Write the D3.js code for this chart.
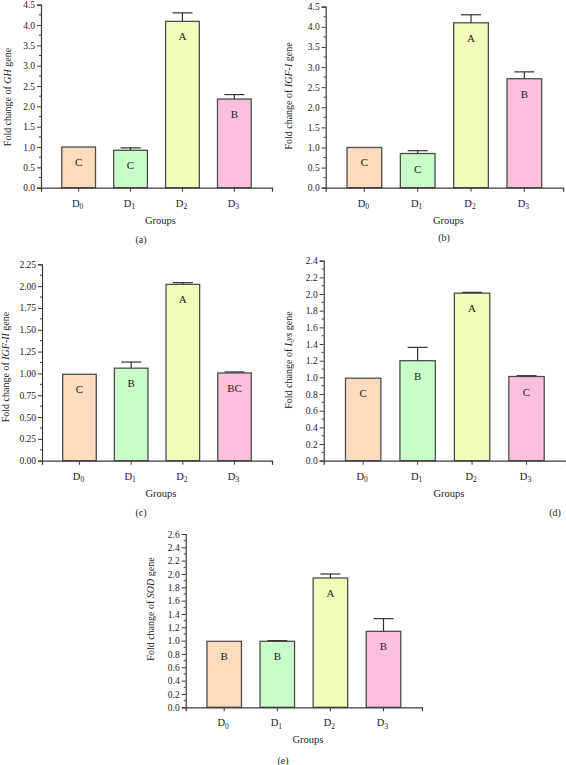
<!DOCTYPE html>
<html>
<head>
<meta charset="utf-8">
<script src="https://cdn.jsdelivr.net/npm/d3@7"></script>
<style>
  body { margin: 0; background: #fff; }
  svg { display: block; font-family: "Liberation Serif", "DejaVu Serif", serif; }
</style>
</head>
<body>
<div id="chart"></div>
<script>
// groups on the x axis
const groups = ["D0", "D1", "D2", "D3"];
const barColors = ["#fddcbd", "#c8fcc8", "#f3fdbb", "#fcbfde"];

// (a) GH
const ghMean = [1.0, 0.92, 4.09, 2.18];
const ghErr = [0, 0.06, 0.21, 0.11];
const ghLetters = ["C", "C", "A", "B"];
// (b) IGF-I
const igf1Mean = [1.0, 0.85, 4.1, 2.71];
const igf1Err = [0, 0.07, 0.2, 0.17];
const igf1Letters = ["C", "C", "A", "B"];
// (c) IGF-II
const igf2Mean = [0.99, 1.06, 2.02, 1.005];
const igf2Err = [0, 0.07, 0.02, 0.012];
const igf2Letters = ["C", "B", "A", "BC"];
// (d) Lys
const lysMean = [0.99, 1.2, 2.01, 1.01];
const lysErr = [0, 0.16, 0.01, 0.01];
const lysLetters = ["C", "B", "A", "C"];
// (e) SOD
const sodMean = [0.99, 0.99, 1.94, 1.14];
const sodErr = [0, 0.01, 0.06, 0.19];
const sodLetters = ["B", "B", "A", "B"];

const svg = d3.select("#chart").append("svg")
    .attr("width", 566)
    .attr("height", 765);

const axisColor = "#3a3a3a";

function drawPanel(p) {
  const g = svg.append("g");

  const x = d3.scaleBand()
    .domain(groups)
    .range([p.left, p.right])
    .paddingInner(0.35)
    .paddingOuter(0.4);

  const y = d3.scaleLinear()
    .domain([0, p.max])
    .range([p.bottom, p.top]);

  const majors = d3.range(0, p.max + p.step / 2, p.step);
  const minors = d3.range(0, p.max + p.minor / 2, p.minor)
    .filter(v => Math.abs(v / p.step - Math.round(v / p.step)) > 1e-6);

  // bars
  const data = groups.map((k, i) => ({key: k, mean: p.mean[i], err: p.err[i], letter: p.letters[i], color: barColors[i]}));

  g.selectAll("rect.bar")
    .data(data)
    .join("rect")
      .attr("class", "bar")
      .attr("x", d => x(d.key))
      .attr("y", d => y(d.mean))
      .attr("width", x.bandwidth())
      .attr("height", d => y(0) - y(d.mean))
      .attr("fill", d => d.color)
      .attr("stroke", "#4d4d4d")
      .attr("stroke-width", 1.3);

  // error bars (upper only)
  const eb = g.selectAll("g.err")
    .data(data.filter(d => d.err > 0))
    .join("g").attr("class", "err")
    .attr("stroke", "#333")
    .attr("stroke-width", 1.2);
  eb.append("line")
    .attr("x1", d => x(d.key) + x.bandwidth() / 2)
    .attr("x2", d => x(d.key) + x.bandwidth() / 2)
    .attr("y1", d => y(d.mean))
    .attr("y2", d => y(d.mean + d.err));
  eb.append("line")
    .attr("x1", d => x(d.key) + x.bandwidth() / 2 - 10)
    .attr("x2", d => x(d.key) + x.bandwidth() / 2 + 10)
    .attr("y1", d => y(d.mean + d.err))
    .attr("y2", d => y(d.mean + d.err));

  // significance letters
  g.selectAll("text.letter")
    .data(data)
    .join("text")
      .attr("class", "letter")
      .attr("x", d => x(d.key) + x.bandwidth() / 2)
      .attr("y", d => y(d.mean) + 19)
      .attr("text-anchor", "middle")
      .attr("font-size", 11)
      .attr("fill", "#222")
      .text(d => d.letter);

  // y axis
  const yAxis = g.append("g")
    .attr("transform", `translate(${p.left},0)`)
    .call(d3.axisLeft(y).tickValues(majors).tickFormat(d3.format(p.fmt)).tickSizeOuter(0).tickSize(4).tickPadding(2));
  yAxis.select(".domain").attr("stroke", axisColor).attr("stroke-width", 1.2);
  yAxis.selectAll(".tick line").attr("stroke", axisColor);
  yAxis.selectAll(".tick text").attr("font-size", 9.5).attr("fill", "#222")
    .attr("font-family", "Liberation Serif, serif");
  yAxis.selectAll("line.minor")
    .data(minors)
    .join("line")
      .attr("class", "minor")
      .attr("x1", 0).attr("x2", -2)
      .attr("y1", d => y(d)).attr("y2", d => y(d))
      .attr("stroke", axisColor);

  // x axis
  const xAxis = g.append("g")
    .attr("transform", `translate(0,${p.bottom})`)
    .call(d3.axisBottom(x).tickSizeOuter(0).tickSize(4).tickFormat(""));
  xAxis.select(".domain").attr("stroke", axisColor).attr("stroke-width", 1.2);
  xAxis.selectAll(".tick line").attr("stroke", axisColor);

  // x tick labels with subscripts
  groups.forEach((k, i) => {
    const t = g.append("text")
      .attr("x", x(k) + x.bandwidth() / 2 - 1)
      .attr("y", p.bottom + 19)
      .attr("text-anchor", "middle")
      .attr("font-size", 10.5)
      .attr("fill", "#222");
    t.append("tspan").text("D");
    t.append("tspan").attr("font-size", 7.5).attr("dy", 2.5).text(k.slice(1));
  });

  // x title
  g.append("text")
    .attr("x", (p.left + p.right) / 2 + 4)
    .attr("y", p.bottom + 36)
    .attr("text-anchor", "middle")
    .attr("font-size", 10.5)
    .attr("fill", "#222")
    .text("Groups");

  // y title
  const yt = g.append("text")
    .attr("transform", `translate(${p.ylabX},${p.ylabY}) rotate(-90)`)
    .attr("text-anchor", "middle")
    .attr("font-size", 10)
    .attr("fill", "#222");
  yt.append("tspan").text("Fold change of ");
  yt.append("tspan").attr("font-style", "italic").text(p.gene);
  yt.append("tspan").text(" gene");

  // panel tag
  g.append("text")
    .attr("x", p.tagX)
    .attr("y", p.tagY)
    .attr("text-anchor", "middle")
    .attr("font-size", 10)
    .attr("fill", "#222")
    .text(p.tag);
}

drawPanel({mean: ghMean, err: ghErr, letters: ghLetters, gene: "GH", max: 4.5, step: 0.5, minor: 0.25, fmt: ".1f",
  left: 41, right: 272, top: 4.7, bottom: 187.7, ylabX: 11, ylabY: 97, tag: "(a)", tagX: 141, tagY: 243});
drawPanel({mean: igf1Mean, err: igf1Err, letters: igf1Letters, gene: "IGF-I", max: 4.5, step: 0.5, minor: 0.25, fmt: ".1f",
  left: 325.7, right: 563, top: 6.7, bottom: 187.7, ylabX: 292, ylabY: 96, tag: "(b)", tagX: 444, tagY: 241});
drawPanel({mean: igf2Mean, err: igf2Err, letters: igf2Letters, gene: "IGF-II", max: 2.25, step: 0.25, minor: 0.125, fmt: ".2f",
  left: 42, right: 272, top: 264.3, bottom: 460.7, ylabX: 9, ylabY: 367, tag: "(c)", tagX: 141, tagY: 516});
drawPanel({mean: lysMean, err: lysErr, letters: lysLetters, gene: "Lys", max: 2.4, step: 0.2, minor: 0.1, fmt: ".1f",
  left: 323.7, right: 566, top: 260.7, bottom: 460.7, ylabX: 292, ylabY: 360, tag: "(d)", tagX: 555, tagY: 516});
drawPanel({mean: sodMean, err: sodErr, letters: sodLetters, gene: "SOD", max: 2.6, step: 0.2, minor: 0.1, fmt: ".1f",
  left: 185.7, right: 422, top: 534, bottom: 707.3, ylabX: 154, ylabY: 609, tag: "(e)", tagX: 283, tagY: 764});
</script>
</body>
</html>
